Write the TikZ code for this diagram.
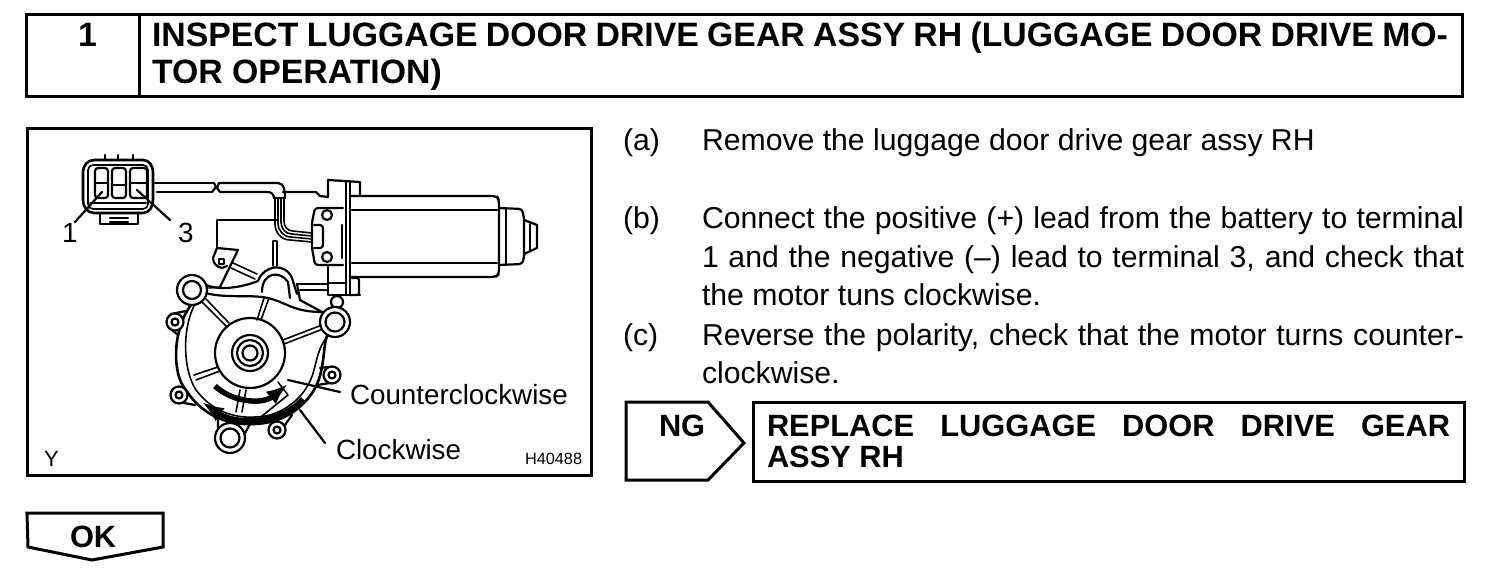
\documentclass[tikz,border=0pt]{standalone}
\usepackage{fontspec}
\setmainfont{Liberation Sans}
\usetikzlibrary{arrows.meta}
\newcommand{\bodyf}{\fontsize{30.2}{34}\selectfont}
\newcommand{\headf}{\fontsize{33.8}{38}\selectfont\bfseries}
\newcommand{\boxf}{\fontsize{30.8}{36}\selectfont\bfseries}
\newcommand{\labf}{\fontsize{27.8}{31}\selectfont}
\tikzset{
  frame/.style={draw=black,line width=3pt,line join=miter},
  txt/.style={anchor=base west,inner sep=0pt,outer sep=0pt,text=black},
  body/.style={txt,font=\bodyf},
  head/.style={txt,font=\headf},
  lab/.style={txt,font=\labf},
  ill/.style={draw=black,line width=2.2pt,line join=round,line cap=round},
  thin/.style={draw=black,line width=1.6pt,line join=round,line cap=round},
  turn/.style={draw=black,line width=5.5pt,-{Latex[length=22pt,width=16pt]}},
}
\begin{document}
\begin{tikzpicture}[x=1pt,y=-1pt]
\useasboundingbox (0,0) rectangle (1504,586);
\fill[white] (0,0) rectangle (1504,586);
% header
\draw[frame] (26,15) rectangle (1462,96);
\draw[frame] (139,15) -- (139,96);
\node[head] (num) at (78,47) {1};
\node[head] (t1) at (152,47) {\hbox to 1296pt{INSPECT LUGGAGE DOOR DRIVE GEAR ASSY RH (LUGGAGE DOOR DRIVE MO-}};
\node[head] (t2) at (152,84) {TOR OPERATION)};
% figure frame
\draw[frame] (27,128) rectangle (591,475);
% instructions
\node[body] (a) at (623,150) {(a)};
\node[body] (a1) at (702,150) {Remove the luggage door drive gear assy RH};
\node[body] (b) at (623,228) {(b)};
\node[body] (b1) at (702,228) {\hbox to 762pt{Connect the positive (+) lead from the battery to terminal}};
\node[body] (b2) at (702,267) {\hbox to 762pt{1 and the negative (--) lead to terminal 3, and check that}};
\node[body] (b3) at (702,305) {the motor tuns clockwise.};
\node[body] (c) at (623,345) {(c)};
\node[body] (c1) at (702,345) {\hbox to 762pt{Reverse the polarity, check that the motor turns counter-}};
\node[body] (c2) at (702,383) {clockwise.};
% NG
\draw[frame] (626,402) -- (708,402) -- (744,443) -- (708,480) -- (626,480) -- cycle;
\node[txt,font=\boxf] (ng) at (659,436) {NG};
\draw[frame] (753,402) rectangle (1464,481);
\node[txt,font=\boxf] (r1) at (767,436) {\hbox to 683pt{REPLACE LUGGAGE DOOR DRIVE GEAR}};
\node[txt,font=\boxf] (r2) at (767,467) {ASSY RH};
% OK
\draw[frame] (27,513) -- (163,513) -- (163,547) -- (92,560) -- (28,547) -- cycle;
\node[txt,font=\boxf] (ok) at (70,547) {OK};
% --- illustration: connector
\draw[ill,line width=2.6pt] (94,160) -- (143,160) to[out=0,in=90] (153,172) -- (153,200) to[out=-90,in=0] (143,213) -- (94,213) to[out=180,in=-90] (83,200) -- (83,172) to[out=90,in=180] (94,160);
\draw[thin,rounded corners=5pt] (88,165) rectangle (148,209);
\draw[ill,rounded corners=3pt] (95,168) rectangle (108,198);
\draw[ill,rounded corners=3pt] (112,168) rectangle (126,198);
\draw[ill,rounded corners=3pt] (130,168) rectangle (147,198);
\draw[ill] (95,183) -- (108,183) (112,185) -- (126,185) (130,183) -- (147,183);
\draw[thin] (90,203) -- (146,203);
\draw[ill] (105,155) -- (105,160) (118,155) -- (118,160) (133,155) -- (133,160);
\draw[ill] (100,214) -- (100,224) -- (138,224) -- (138,214);
\draw[ill] (110,218) -- (128,218) (110,222) -- (128,222);
% cable
\draw[ill] (155,183) -- (214,183) (157,192) -- (212,192);
\draw[ill] (214,183) -- (216,187) -- (212,192);
\draw[ill] (219,183) -- (278,183) to[out=0,in=90] (285,198);
\draw[ill] (219,183) -- (217,188) -- (220,192) -- (268,192) to[out=0,in=90] (274,198);
\draw[ill] (274,198) -- (285,198);
\foreach \d in {0,3,6,9}{
  \draw[thin] (275+\d,198) -- (275+\d,224-\d*.3) to[out=-90,in=180] (290+\d*.3,240-\d) -- (312,242-\d);
}
% bracket
\draw[ill] (217,248) -- (217,220) -- (277,220);
\draw[ill] (217,248) -- (238,250) -- (220,287);
\draw[ill] (217,248) -- (213,258) to[out=-90,in=170] (222,268) -- (227,266);
\draw[thin] (219,259) rectangle (224,264);
\draw[thin] (233,263) -- (257,274) (231,268) -- (255,279);
\draw[thin] (273,241) -- (273,266) (277,241) -- (277,266) (273,241) -- (277,241);
% motor
\draw[ill] (283,192) -- (316,192) -- (320,196) -- (328,197);
\draw[ill] (328,197) -- (328,180) -- (360,182) -- (360,195);
\draw[ill,line width=2.8pt] (346,182) -- (346,295) (350,182) -- (350,295);
\draw[ill,rounded corners=4pt] (350,196) -- (497,196) -- (499,200) -- (499,274) -- (496,277) -- (350,277);
\draw[ill] (352,210) -- (497,210) (352,263) -- (497,263);
\draw[ill,rounded corners=3pt] (499,208) -- (522,209) -- (524,218) -- (524,258) -- (522,264) -- (499,265);
\draw[thin] (506,209) -- (506,264);
\draw[ill] (524,220) -- (537,225) -- (537,248) -- (524,254);
\draw[thin] (530,224) -- (530,250);
\draw[ill,rounded corners=3pt] (343,208) -- (315,208) -- (312,222) -- (312,248) -- (315,265) -- (343,265);
\draw[ill,rounded corners=3pt] (314,225) -- (323,225) -- (323,248) -- (314,248);
\draw[ill] (342,225) -- (342,258);
\draw[ill,fill=white] (327,215) circle (5);
\draw[ill,fill=white] (327,257) circle (5);
\draw[ill] (328,265) -- (328,295) -- (360,295);
\draw[ill] (328,283) -- (346,283);
\draw[ill,rounded corners=2pt] (350,278) -- (359,278) -- (359,295) -- (350,295);
\draw[ill] (297,284) -- (328,284) (300,290) -- (328,290);
\draw[ill] (337,302) circle (6);
% gear housing
\draw[ill,line width=2.6pt] (191,305) .. controls (172,330) and (172,375) .. (186,390)
  .. controls (205,420) and (235,425) .. (252,424)
  .. controls (285,424) and (305,405) .. (314,390)
  .. controls (325,372) and (323,345) .. (327,336);
\draw[thin] (194,306) .. controls (182,330) and (183,370) .. (196,390)
  .. controls (215,415) and (240,418) .. (255,417)
  .. controls (280,417) and (300,400) .. (308,385)
  .. controls (317,370) and (315,350) .. (328,336);
\draw[ill] (205,293) .. controls (225,298) and (245,295) .. (262,297)
  .. controls (285,300) and (290,312) .. (322,312);
\draw[ill] (203,283) .. controls (212,290) and (235,290) .. (258,281)
  .. controls (264,265) and (285,262) .. (292,278) -- (297,294);
\draw[thin] (209,288) -- (220,287);
\draw[ill] (262,292) .. controls (262,272) and (280,270) .. (288,282) -- (290,298);
\draw[ill] (297,284) -- (300,300) -- (322,312);
% hub
\draw[ill,fill=white] (250,353) circle (35);
\draw[ill] (250,353) circle (18);
\draw[ill] (250,353) circle (13);
\draw[ill] (250,353) circle (7.5);
% spokes
\draw[thin] (202,302) -- (227,327) (206,299) -- (229,323);
\draw[thin] (264,298) -- (257,320) (269,298) -- (261,320);
\draw[thin] (283,340) -- (322,325) (284,344) -- (323,329);
\draw[thin] (194,375) -- (218,367) (196,380) -- (220,371);
\draw[thin] (240,390) -- (236,412) (246,390) -- (242,412);
\draw[thin] (278,382) -- (288,395) -- (262,416);
% lug stubs
\draw[ill] (171,314) -- (186,311) (172,330) -- (178,335);
\draw[ill] (175,388) -- (186,390) (184,403) -- (195,405);
\draw[ill] (328,367) -- (320,368) (330,383) -- (317,385);
\draw[ill] (285,425) -- (292,415);
\draw[ill] (218,428) -- (218,418) (245,433) -- (250,424);
% lugs
\draw[ill,fill=white] (192,290) circle (15);
\draw[ill,fill=white] (192,290) circle (9);
\draw[ill,fill=white] (335,322) circle (15);
\draw[ill,fill=white] (335,322) circle (9.5);
\draw[ill,fill=white] (230,438) circle (15);
\draw[ill,fill=white] (230,438) circle (9.5);
\draw[ill,fill=white] (175,322) circle (8.5);
\draw[ill,fill=white] (175,322) circle (3.5);
\draw[ill,fill=white] (179,395) circle (8.5);
\draw[ill,fill=white] (179,395) circle (3.5);
\draw[ill,fill=white] (332,375) circle (8.5);
\draw[ill,fill=white] (332,375) circle (3.5);
\draw[ill,fill=white] (277,430) circle (8.5);
\draw[ill,fill=white] (277,430) circle (3.5);
% rotation arrows
\coordinate (ccwS) at (215,386);
\coordinate (ccwE) at (288,384);
\coordinate (cwS) at (303,399);
\coordinate (cwE) at (202,402);
\draw[turn] (ccwS) .. controls (232,402) and (262,405) .. (ccwE);
\draw[turn] (cwS) .. controls (280,425) and (235,425) .. (cwE);
% labels
\node[lab] (n1) at (62,242) {1};
\node[lab] (n3) at (178,242) {3};
\node[lab] (ccw) at (350,404) {Counterclockwise};
\node[lab] (cw) at (336,459) {Clockwise};
\node[lab,font=\fontsize{22}{26}\selectfont] (y) at (44,466) {Y};
\node[lab,font=\fontsize{16.3}{19}\selectfont] (h) at (525,464) {H40488};
% leaders
\coordinate (l1) at (340,392);
\coordinate (l2) at (325,443);
\coordinate (l3) at (75,222);
\coordinate (l4) at (170,220);
\draw[ill] (l1) -- (288,380);
\draw[ill] (l2) -- (300,410);
\draw[ill] (l3) -- (102,192);
\draw[ill] (l4) -- (137,190);
\end{tikzpicture}
\end{document}
